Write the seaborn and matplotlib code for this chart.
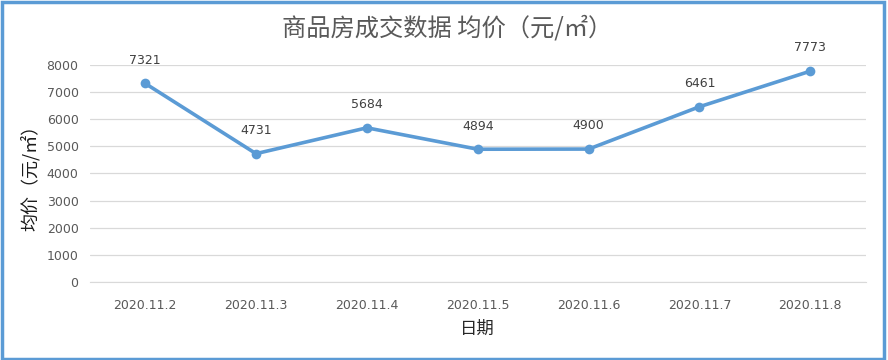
import matplotlib
matplotlib.use("Agg")
import matplotlib.pyplot as plt
import seaborn as sns
import pandas as pd
from matplotlib.patches import Rectangle

# data
dates = ["2020.11.2", "2020.11.3", "2020.11.4", "2020.11.5", "2020.11.6", "2020.11.7", "2020.11.8"]
prices = [7321, 4731, 5684, 4894, 4900, 6461, 7773]

df = pd.DataFrame({"date": dates, "price": prices})

sns.set_style("white")
plt.rcParams['font.family'] = ['Noto Sans CJK SC', 'DejaVu Sans']

fig = plt.figure(figsize=(8.88, 3.6), dpi=100)
ax = fig.add_axes([0.101, 0.2167, 0.874, 0.6028])

line_color = '#5B9BD5'
sns.lineplot(data=df, x="date", y="price", ax=ax, color=line_color,
             linewidth=2.6, marker='o', markersize=7, markeredgewidth=0,
             sort=False)

ax.set_xlim(-0.5, len(dates) - 0.5)
ax.set_ylim(0, 8000)
ax.set_yticks(range(0, 8001, 1000))

# data labels
for i, v in enumerate(prices):
    ax.annotate(f"{v}", (i, v), xytext=(0, 12), textcoords='offset points',
                ha='center', va='bottom', fontsize=9, color='#404040',
                family='DejaVu Sans')

ax.grid(axis='y', color='#D9D9D9', linewidth=0.9)
ax.set_axisbelow(True)
for s in ['top', 'right', 'left']:
    ax.spines[s].set_visible(False)
ax.spines['bottom'].set_color('#D9D9D9')
ax.tick_params(axis='both', length=0, labelsize=9, colors='#595959', pad=12)
ax.tick_params(axis='y', pad=8)
for lbl in ax.get_xticklabels() + ax.get_yticklabels():
    lbl.set_family('DejaVu Sans')

ax.set_xlabel("日期", fontsize=12.5, color='#262626', labelpad=6)
ax.set_ylabel("均价（元/㎡）", fontsize=13, color='#1a1a1a', labelpad=5)
fig.text(0.503, 0.922, "商品房成交数据 均价（元/㎡）", ha='center', va='center',
         fontsize=17.5, color='#595959')

# blue frame round the chart
fig.patches.append(Rectangle((0.002, 0.004), 0.994, 0.99, transform=fig.transFigure,
                             fill=False, edgecolor=line_color, linewidth=2.5))

plt.savefig("out.png", dpi=100)
